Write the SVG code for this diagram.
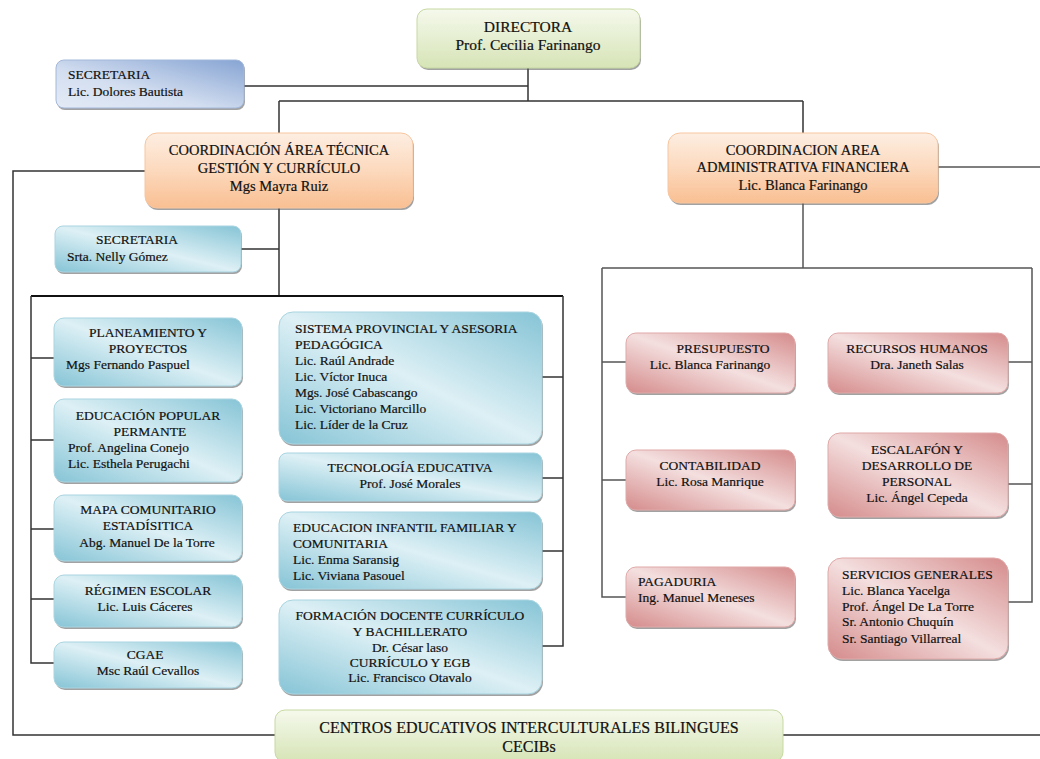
<svg xmlns="http://www.w3.org/2000/svg" width="1040" height="759" viewBox="0 0 1040 759">
<defs>
<linearGradient id="gGreen" x1="0" y1="0" x2="0" y2="1"><stop offset="0" stop-color="#f5f9ec"/><stop offset="1" stop-color="#d6e4b6"/></linearGradient>
<linearGradient id="gBlue" x1="1" y1="0" x2="0" y2="1"><stop offset="0" stop-color="#86a4d3"/><stop offset="0.6" stop-color="#d3def0"/><stop offset="1" stop-color="#e4ebf6"/></linearGradient>
<linearGradient id="gOrange" x1="0" y1="0" x2="0" y2="1"><stop offset="0" stop-color="#fdeee2"/><stop offset="0.5" stop-color="#fcd9bd"/><stop offset="1" stop-color="#f9bf92"/></linearGradient>
<linearGradient id="gTeal" x1="1" y1="0" x2="0" y2="1"><stop offset="0" stop-color="#86c4d6"/><stop offset="0.5" stop-color="#ddf0f5"/><stop offset="1" stop-color="#86c4d6"/></linearGradient>
<linearGradient id="gRed" x1="1" y1="0" x2="0" y2="1"><stop offset="0" stop-color="#d58b8b"/><stop offset="0.5" stop-color="#f4dfdf"/><stop offset="1" stop-color="#d58b8b"/></linearGradient>
</defs>
<style>
text{font-family:"Liberation Serif","Times New Roman",serif;font-size:13.5px;fill:#111;stroke:#111;stroke-width:0.2}
.c{text-anchor:middle}
.big{font-size:14.5px}
.dir{font-size:15.5px}
.cec{font-size:16px}
.sh{fill:#555;opacity:0.55}
.green{fill:url(#gGreen);stroke:#c6d9a2;stroke-width:1}
.blue{fill:url(#gBlue);stroke:#a3b8da;stroke-width:1}
.orange{fill:url(#gOrange);stroke:#f7c6a0;stroke-width:1}
.teal{fill:url(#gTeal);stroke:#a9d5e1;stroke-width:1}
.red{fill:url(#gRed);stroke:#e0a9a9;stroke-width:1}
.ln{fill:none;stroke:#333;stroke-width:1.5}
.lg{fill:none;stroke:#555;stroke-width:1.5}
.thick{fill:none;stroke:#111;stroke-width:2.2}
</style>

<g id="connectors">
<path class="ln" d="M244,86 H528 M528,68 V101 M279,101 H803 M279,101 V133 M803,101 V133"/>
<path class="ln" d="M145,171 H13 V735 H275 M783,735 H1040"/>
<path class="lg" d="M938,167 H1040"/>
<path class="ln" d="M279,208 V296 M241,249 H279"/>
<path class="thick" d="M31,296 H563"/>
<path class="ln" d="M31,296 V663 H54 M31,358 H54 M31,440 H54 M31,529 H54 M31,599 H54"/>
<path class="ln" d="M563,296 V646 H542 M542,377 H563 M542,478 H563 M542,551 H563"/>
<path class="lg" d="M803,203 V268 M602,268 H1032 M602,268 V597 H626 M602,362 H626 M602,480 H626 M1032,268 V602 H1008 M1008,362 H1032 M1008,484 H1032"/>
</g>

<g id="directora">
<rect class="sh" x="418" y="11" width="223" height="59" rx="10"/>
<rect class="green" x="417" y="9" width="223" height="59" rx="10"/>
<text class="c dir" x="528" y="32">DIRECTORA</text>
<text class="c dir" x="528" y="50">Prof. Cecilia Farinango</text>
</g>

<g id="secretaria-dir">
<rect class="sh" x="57" y="62" width="188" height="48" rx="8"/>
<rect class="blue" x="56" y="60" width="188" height="48" rx="8"/>
<text x="68" y="79">SECRETARIA</text>
<text x="68" y="96">Lic. Dolores Bautista</text>
</g>

<g id="coord-tecnica">
<rect class="sh" x="146" y="135" width="268" height="75" rx="12"/>
<rect class="orange" x="145" y="133" width="268" height="75" rx="12"/>
<text class="c big" x="279" y="155">COORDINACIÓN ÁREA TÉCNICA</text>
<text class="c big" x="279" y="173">GESTIÓN Y CURRÍCULO</text>
<text class="c big" x="279" y="191">Mgs Mayra Ruiz</text>
</g>

<g id="coord-admin">
<rect class="sh" x="669" y="135" width="270" height="70" rx="12"/>
<rect class="orange" x="668" y="133" width="270" height="70" rx="12"/>
<text class="c big" x="803" y="155">COORDINACION AREA</text>
<text class="c big" x="803" y="172">ADMINISTRATIVA FINANCIERA</text>
<text class="c big" x="803" y="190">Lic. Blanca Farinango</text>
</g>

<g id="secretaria-tec">
<rect class="sh" x="56" y="228" width="186" height="46" rx="8"/>
<rect class="teal" x="55" y="226" width="186" height="46" rx="8"/>
<text class="c" x="137" y="244">SECRETARIA</text>
<text x="67" y="261">Srta. Nelly Gómez</text>
</g>

<g id="planeamiento">
<rect class="sh" x="55" y="320" width="188" height="68" rx="10"/>
<rect class="teal" x="54" y="318" width="188" height="68" rx="10"/>
<text class="c" x="148" y="337">PLANEAMIENTO Y</text>
<text class="c" x="148" y="353">PROYECTOS</text>
<text x="66" y="369">Mgs Fernando Paspuel</text>
</g>

<g id="educacion-popular">
<rect class="sh" x="55" y="401" width="188" height="83" rx="10"/>
<rect class="teal" x="54" y="399" width="188" height="83" rx="10"/>
<text class="c" x="148" y="420">EDUCACIÓN POPULAR</text>
<text class="c" x="150" y="436">PERMANTE</text>
<text x="68" y="452">Prof. Angelina Conejo</text>
<text x="68" y="468">Lic. Esthela Perugachi</text>
</g>

<g id="mapa">
<rect class="sh" x="55" y="497" width="188" height="66" rx="10"/>
<rect class="teal" x="54" y="495" width="188" height="66" rx="10"/>
<text class="c" x="148" y="514">MAPA COMUNITARIO</text>
<text class="c" x="148" y="530">ESTADÍSITICA</text>
<text class="c" x="147" y="547">Abg. Manuel De la Torre</text>
</g>

<g id="regimen">
<rect class="sh" x="55" y="577" width="188" height="52" rx="10"/>
<rect class="teal" x="54" y="575" width="188" height="52" rx="10"/>
<text class="c" x="148" y="595">RÉGIMEN ESCOLAR</text>
<text class="c" x="145" y="611">Lic.  Luis Cáceres</text>
</g>

<g id="cgae">
<rect class="sh" x="55" y="644" width="188" height="46" rx="10"/>
<rect class="teal" x="54" y="642" width="188" height="46" rx="10"/>
<text class="c" x="145" y="659">CGAE</text>
<text class="c" x="148" y="675">Msc Raúl Cevallos</text>
</g>

<g id="sistema">
<rect class="sh" x="280" y="314" width="263" height="132" rx="14"/>
<rect class="teal" x="279" y="312" width="263" height="132" rx="14"/>
<text x="295" y="333">SISTEMA PROVINCIAL Y ASESORIA</text>
<text x="295" y="349">PEDAGÓGICA</text>
<text x="295" y="365">Lic. Raúl Andrade</text>
<text x="295" y="381">Lic. Víctor Inuca</text>
<text x="295" y="397">Mgs. José Cabascango</text>
<text x="295" y="413">Lic. Victoriano Marcillo</text>
<text x="295" y="429">Lic. Líder de la Cruz</text>
</g>

<g id="tecnologia">
<rect class="sh" x="280" y="455" width="263" height="48" rx="8"/>
<rect class="teal" x="279" y="453" width="263" height="48" rx="8"/>
<text class="c" x="410" y="472">TECNOLOGÍA EDUCATIVA</text>
<text class="c" x="410" y="488">Prof. José Morales</text>
</g>

<g id="educacion-infantil">
<rect class="sh" x="280" y="514" width="263" height="77" rx="12"/>
<rect class="teal" x="279" y="512" width="263" height="77" rx="12"/>
<text x="293" y="532">EDUCACION INFANTIL FAMILIAR Y</text>
<text x="293" y="548">COMUNITARIA</text>
<text x="293" y="564">Lic. Enma Saransig</text>
<text x="293" y="580">Lic. Viviana Pasouel</text>
</g>

<g id="formacion">
<rect class="sh" x="280" y="602" width="263" height="94" rx="14"/>
<rect class="teal" x="279" y="600" width="263" height="94" rx="14"/>
<text class="c" x="410" y="620">FORMACIÓN DOCENTE CURRÍCULO</text>
<text class="c" x="410" y="636">Y BACHILLERATO</text>
<text class="c" x="410" y="652">Dr. César laso</text>
<text class="c" x="410" y="667">CURRÍCULO Y EGB</text>
<text class="c" x="410" y="682">Lic. Francisco Otavalo</text>
</g>

<g id="presupuesto">
<rect class="sh" x="627" y="335" width="169" height="60" rx="10"/>
<rect class="red" x="626" y="333" width="169" height="60" rx="10"/>
<text class="c" x="723" y="353">PRESUPUESTO</text>
<text class="c" x="710" y="369">Lic. Blanca Farinango</text>
</g>

<g id="recursos">
<rect class="sh" x="829" y="335" width="180" height="60" rx="10"/>
<rect class="red" x="828" y="333" width="180" height="60" rx="10"/>
<text class="c" x="917" y="353">RECURSOS HUMANOS</text>
<text class="c" x="917" y="369">Dra. Janeth Salas</text>
</g>

<g id="contabilidad">
<rect class="sh" x="627" y="452" width="169" height="60" rx="10"/>
<rect class="red" x="626" y="450" width="169" height="60" rx="10"/>
<text class="c" x="710" y="470">CONTABILIDAD</text>
<text class="c" x="710" y="486">Lic. Rosa Manrique</text>
</g>

<g id="escalafon">
<rect class="sh" x="829" y="435" width="180" height="84" rx="12"/>
<rect class="red" x="828" y="433" width="180" height="84" rx="12"/>
<text class="c" x="917" y="454">ESCALAFÓN  Y</text>
<text class="c" x="917" y="470">DESARROLLO DE</text>
<text class="c" x="917" y="486">PERSONAL</text>
<text class="c" x="917" y="502">Lic. Ángel Cepeda</text>
</g>

<g id="pagaduria">
<rect class="sh" x="627" y="569" width="169" height="60" rx="10"/>
<rect class="red" x="626" y="567" width="169" height="60" rx="10"/>
<text x="638" y="586">PAGADURIA</text>
<text x="638" y="602">Ing. Manuel Meneses</text>
</g>

<g id="servicios">
<rect class="sh" x="829" y="560" width="180" height="101" rx="14"/>
<rect class="red" x="828" y="558" width="180" height="101" rx="14"/>
<text x="842" y="579">SERVICIOS GENERALES</text>
<text x="842" y="595">Lic. Blanca Yacelga</text>
<text x="842" y="611">Prof. Ángel De La Torre</text>
<text x="842" y="626">Sr. Antonio Chuquín</text>
<text x="842" y="643">Sr. Santiago Villarreal</text>
</g>

<g id="cecibs">
<rect class="green" x="275" y="710" width="508" height="52" rx="10"/>
<text class="c cec" x="529" y="733">CENTROS EDUCATIVOS INTERCULTURALES BILINGUES</text>
<text class="c cec" x="529" y="752">CECIBs</text>
</g>
</svg>
